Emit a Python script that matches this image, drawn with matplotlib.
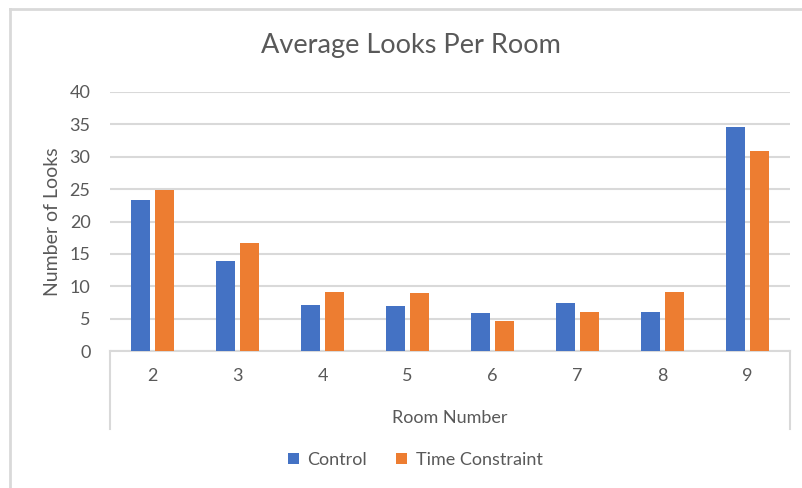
import matplotlib.pyplot as plt
import numpy as np
from matplotlib.lines import Line2D

# Data
rooms = ['2', '3', '4', '5', '6', '7', '8', '9']
control = [23.3, 13.9, 7.1, 6.9, 5.9, 7.4, 6.0, 34.6]
time_constraint = [24.9, 16.7, 9.1, 8.9, 4.6, 6.0, 9.1, 30.9]

blue = '#4472C4'
orange = '#ED7D31'
grey_text = '#595959'
grid_col = '#D9D9D9'

plt.rcParams['font.family'] = ['Lato', 'DejaVu Sans']

fig = plt.figure(figsize=(8.02, 4.88), dpi=100)
ax = fig.add_axes([110 / 802, 1 - 351 / 488, 680 / 802, (351 - 92) / 488])

x = np.arange(len(rooms))
w = 0.22
ax.bar(x - 0.145, control, w, color=blue, label='Control', zorder=3)
ax.bar(x + 0.145, time_constraint, w, color=orange, label='Time Constraint', zorder=3)

ax.set_xlim(-0.5, len(rooms) - 0.5)
ax.set_ylim(0, 40)
ax.set_yticks(range(0, 41, 5))
ax.set_xticks(x)
ax.set_xticklabels(rooms)
ax.yaxis.grid(True, color=grid_col, linewidth=1.5, zorder=0)
ax.tick_params(axis='both', length=0, labelsize=13, labelcolor=grey_text)
ax.tick_params(axis='y', pad=14)
ax.tick_params(axis='x', pad=12)

for s in ['top', 'right', 'left']:
    ax.spines[s].set_visible(False)
ax.spines['bottom'].set_color(grid_col)
ax.spines['bottom'].set_linewidth(1.5)

# vertical lines boxing the category axis
for xx in (0, 1):
    ax.add_line(Line2D([xx, xx], [0, -0.30], transform=ax.transAxes,
                       color=grid_col, linewidth=1.5, clip_on=False))

ax.set_ylabel('Number of Looks', fontsize=14, color=grey_text, labelpad=6)
ax.set_xlabel('Room Number', fontsize=13, color=grey_text, labelpad=19)

fig.text(0.513, 1 - 45 / 488, 'Average Looks Per Room', ha='center', va='center',
         fontsize=19.5, color=grey_text)

ax.legend(loc='center', bbox_to_anchor=(0.449, -0.42), ncol=2, frameon=False,
          fontsize=13, labelcolor=grey_text, handlelength=0.6, handleheight=0.6,
          handletextpad=0.5, columnspacing=1.6)

# chart area border (top and left visible in the crop)
fig.add_artist(Line2D([10 / 802, 1], [1 - 9 / 488, 1 - 9 / 488],
                      transform=fig.transFigure, color=grid_col, linewidth=2))
fig.add_artist(Line2D([10 / 802, 10 / 802], [0, 1 - 9 / 488],
                      transform=fig.transFigure, color=grid_col, linewidth=2))

fig.savefig('out.png', dpi=100)
